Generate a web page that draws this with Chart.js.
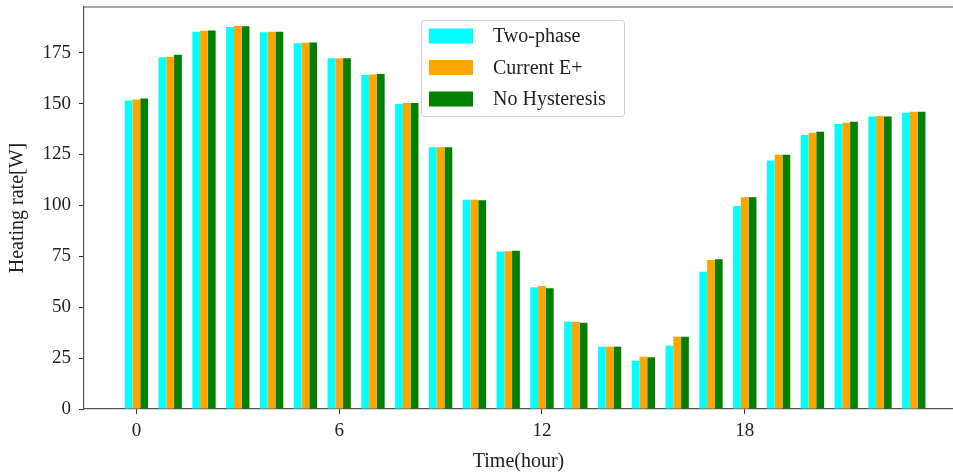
<!DOCTYPE html>
<html>
<head>
<meta charset="utf-8">
<script src="https://cdn.jsdelivr.net/npm/chart.js@4"></script>
<style>
  html, body { margin: 0; padding: 0; background: #fff; }
  #wrap { width: 953px; height: 476px; }
</style>
</head>
<body>
<div id="wrap"><canvas id="myChart"></canvas></div>
<script>
// data
const hours = [0, 1, 2, 3, 4, 5, 6, 7, 8, 9, 10, 11, 12, 13, 14, 15, 16, 17, 18, 19, 20, 21, 22, 23]
const twoPhase = [151.5, 172.7, 185.3, 187.6, 185.0, 179.6, 172.2, 164.0, 149.8, 128.5, 102.7, 77.3,
                  59.8, 42.9, 30.6, 23.7, 31.1, 67.4, 99.7, 122.0, 134.6, 140.0, 143.6, 145.5]
const currentEplus = [152.0, 173.0, 185.7, 188.1, 185.3, 179.9, 172.2, 164.2, 150.2, 128.5, 102.7, 77.5,
                      60.4, 42.9, 30.6, 25.7, 35.5, 73.2, 104.0, 124.8, 135.7, 140.6, 143.9, 146.0]
const noHysteresis = [152.5, 173.9, 185.9, 188.0, 185.3, 180.0, 172.2, 164.5, 150.2, 128.5, 102.5, 77.7,
                      59.3, 42.4, 30.6, 25.4, 35.5, 73.5, 104.0, 124.8, 136.2, 141.0, 143.6, 146.0]
const xTicks = [0, 6, 12, 18]
const yTicks = [0, 25, 50, 75, 100, 125, 150, 175]

function toPoints(values){
    return hours.map(function(h, i){ return { x: h, y: values[i] } })
}

const serif = "'Liberation Serif', 'Times New Roman', serif"

// top spine + legend box, drawn on top of the chart
const framePlugin = {
    id: 'frame',
    afterDraw(chart){
        const ctx = chart.ctx
        const a = chart.chartArea
        ctx.save()
        ctx.strokeStyle = '#555'
        ctx.lineWidth = 1.2
        ctx.beginPath()
        ctx.moveTo(a.left, a.top)
        ctx.lineTo(a.right, a.top)
        ctx.stroke()

        // legend
        const bx = 421, by = 20, bw = 203, bh = 96
        ctx.fillStyle = 'rgba(255,255,255,0.85)'
        ctx.strokeStyle = '#d0d0d0'
        ctx.lineWidth = 1
        ctx.beginPath()
        ctx.roundRect(bx + 0.5, by + 0.5, bw, bh, 3)
        ctx.fill()
        ctx.stroke()
        ctx.font = '20px ' + serif
        ctx.textBaseline = 'middle'
        chart.data.datasets.forEach(function(ds, i){
            const cy = 36 + i * 31.5
            ctx.fillStyle = ds.backgroundColor
            ctx.fillRect(429, cy - 7.5, 44, 15)
            ctx.fillStyle = '#222'
            ctx.fillText(ds.label, 493, cy + 1)
        })
        ctx.restore()
    }
}

var ctx = document.getElementById('myChart').getContext('2d')
var myChart = new Chart(ctx, {
    type: 'bar',
    data: {
        datasets: [
            { label: 'Two-phase', data: toPoints(twoPhase), backgroundColor: '#00ffff' },
            { label: 'Current E+', data: toPoints(currentEplus), backgroundColor: '#ffa500' },
            { label: 'No Hysteresis', data: toPoints(noHysteresis), backgroundColor: '#008000' }
        ]
    },
    options: {
        responsive: true,
        maintainAspectRatio: false,
        animation: false,
        layout: { padding: { top: 7, right: 0, left: 0, bottom: 0 } },
        datasets: {
            bar: { barPercentage: 1, categoryPercentage: 0.69, borderWidth: 0 }
        },
        plugins: {
            legend: { display: false },
            tooltip: { enabled: false }
        },
        scales: {
            x: {
                type: 'linear',
                min: -1.55,
                max: 24.16,
                offset: false,
                afterBuildTicks: function(scale){
                    scale.ticks = xTicks.map(function(v){ return { value: v } })
                },
                afterFit: function(scale){
                    scale.height = 67
                    scale.paddingLeft = 0
                    scale.paddingRight = 0
                },
                grid: { offset: false, drawOnChartArea: false, drawTicks: true, tickLength: 5, color: '#333' },
                border: { display: true, color: '#555', width: 1.2 },
                ticks: { color: '#222', padding: 6, maxRotation: 0, font: { family: serif, size: 19 } },
                title: {
                    display: true, text: 'Time(hour)', color: '#222',
                    padding: { top: 0, bottom: 2 },
                    font: { family: serif, size: 20 }
                }
            },
            y: {
                min: 0,
                max: 197.4,
                afterBuildTicks: function(scale){
                    scale.ticks = yTicks.map(function(v){ return { value: v } })
                },
                afterFit: function(scale){
                    scale.width = 84
                    scale.paddingTop = 0
                    scale.paddingBottom = 0
                },
                grid: { offset: false, drawOnChartArea: false, drawTicks: true, tickLength: 5, color: '#333' },
                border: { display: true, color: '#555', width: 1.2 },
                ticks: { color: '#222', padding: 8, font: { family: serif, size: 19 } },
                title: {
                    display: true, text: 'Heating rate[W]', color: '#222',
                    padding: { top: 6, bottom: 0 },
                    font: { family: serif, size: 20 }
                }
            }
        }
    },
    plugins: [framePlugin]
})
</script>
</body>
</html>
